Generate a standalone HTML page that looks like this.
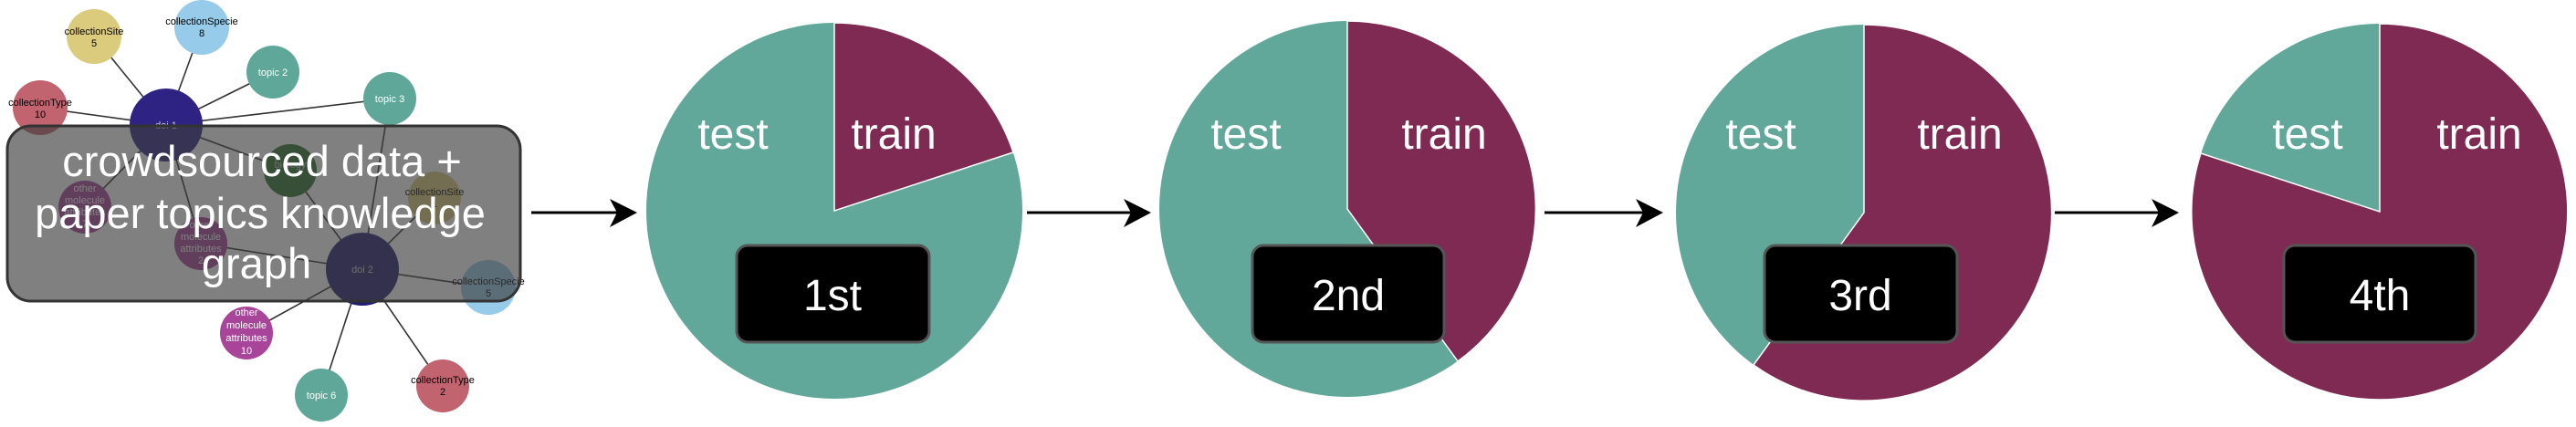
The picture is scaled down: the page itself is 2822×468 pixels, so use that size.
<!DOCTYPE html>
<html><head><meta charset="utf-8"><style>
html,body{margin:0;padding:0;background:#fff;width:2822px;height:468px;overflow:hidden}
svg{display:block}
</style></head><body>
<svg width="2822" height="468" viewBox="0 0 2822 468" xmlns="http://www.w3.org/2000/svg" font-family="Liberation Sans, Arial, sans-serif">
<defs>
<marker id="ah" markerWidth="10" markerHeight="10" refX="9" refY="5" orient="auto" markerUnits="userSpaceOnUse" viewBox="0 0 10 10"></marker>
</defs>
<!-- graph edges -->
<g stroke="#333" stroke-width="1.6">
<line x1="182" y1="137" x2="103" y2="40"/>
<line x1="182" y1="137" x2="221" y2="30"/>
<line x1="182" y1="137" x2="299" y2="79"/>
<line x1="182" y1="137" x2="44" y2="118"/>
<line x1="182" y1="137" x2="427" y2="108"/>
<line x1="182" y1="137" x2="318" y2="187"/>
<line x1="182" y1="137" x2="93" y2="227"/>
<line x1="182" y1="137" x2="220" y2="267"/>
<line x1="397" y1="295" x2="427" y2="108"/>
<line x1="397" y1="295" x2="318" y2="187"/>
<line x1="397" y1="295" x2="476" y2="217"/>
<line x1="397" y1="295" x2="220" y2="267"/>
<line x1="397" y1="295" x2="535" y2="315"/>
<line x1="397" y1="295" x2="270" y2="365"/>
<line x1="397" y1="295" x2="352" y2="433"/>
<line x1="397" y1="295" x2="485" y2="423"/>
</g>
<!-- nodes -->
<g font-size="11" text-anchor="middle">
<circle cx="103" cy="40" r="30" fill="#dbcb7c"/><text x="103" y="38" fill="#000">collectionSite</text><text x="103" y="51">5</text>
<circle cx="221" cy="30" r="30" fill="#96cbe9"/><text x="221" y="27">collectionSpecie</text><text x="221" y="40">8</text>
<circle cx="299" cy="79" r="29" fill="#5fa899"/><text x="299" y="83" fill="#fff">topic 2</text>
<circle cx="44" cy="118" r="30" fill="#c1646f"/><text x="44" y="116">collectionType</text><text x="44" y="129">10</text>
<circle cx="427" cy="108" r="29" fill="#5fa899"/><text x="427" y="112" fill="#fff">topic 3</text>
<circle cx="182" cy="137" r="40" fill="#2e2383"/><text x="182" y="141" fill="#ccc">doi 1</text>
<circle cx="318" cy="187" r="29" fill="#2f742f"/><text x="318" y="184" fill="#ccc">biology</text>
<circle cx="93" cy="227" r="29" fill="#a8449a"/><text x="93" y="210" fill="#fff">other</text><text x="93" y="223" fill="#fff">molecule</text><text x="93" y="236" fill="#fff">attributes</text><text x="93" y="249" fill="#fff">7</text>
<circle cx="220" cy="267" r="29" fill="#a8449a"/><text x="220" y="250" fill="#fff">other</text><text x="220" y="263" fill="#fff">molecule</text><text x="220" y="276" fill="#fff">attributes</text><text x="220" y="289" fill="#fff">2</text>
<circle cx="476" cy="217" r="29" fill="#dbcb7c"/><text x="476" y="214">collectionSite</text><text x="476" y="227">1</text>
<circle cx="535" cy="315" r="30" fill="#96cbe9"/><text x="535" y="312">collectionSpecie</text><text x="535" y="325">5</text>
<circle cx="397" cy="295" r="40" fill="#231d70"/><text x="397" y="299" fill="#ccc">doi 2</text>
<circle cx="270" cy="365" r="29" fill="#a8449a"/><text x="270" y="346" fill="#fff">other</text><text x="270" y="360" fill="#fff">molecule</text><text x="270" y="374" fill="#fff">attributes</text><text x="270" y="388" fill="#fff">10</text>
<circle cx="352" cy="433" r="29" fill="#5fa899"/><text x="352" y="437" fill="#fff">topic 6</text>
<circle cx="485" cy="423" r="29" fill="#c1646f"/><text x="485" y="420">collectionType</text><text x="485" y="433">2</text>
</g>
<!-- overlay -->
<rect x="8" y="138" width="562" height="192" rx="26" fill="rgba(60,60,60,0.65)" stroke="#333" stroke-width="3"/>
<g fill="#fff" font-size="47" text-anchor="middle">
<text x="287" y="193">crowdsourced data +</text>
<text x="285" y="250">paper topics knowledge</text>
<text x="281" y="305">graph</text>
</g>
<!-- arrows -->
<g stroke="#000" stroke-width="3">
<line x1="582" y1="233" x2="680" y2="233"/>
<line x1="1125" y1="233" x2="1243" y2="233"/>
<line x1="1692" y1="233" x2="1804" y2="233"/>
<line x1="2251" y1="233" x2="2369" y2="233"/>
</g>
<g fill="#000">
<polygon points="668,218 698,233 668,249 676,233"/>
<polygon points="1231,218 1261,233 1231,249 1239,233"/>
<polygon points="1792,218 1822,233 1792,249 1800,233"/>
<polygon points="2357,218 2387,233 2357,249 2365,233"/>
</g>
<!-- pies -->
<g stroke="#fff" stroke-width="1.5">
<circle cx="914" cy="231" r="206" fill="#61a89a" stroke="none"/>
<path d="M914,231 L914,25 A206,206 0 0 1 1110,167 Z" fill="#7e2a52"/>
<circle cx="1476" cy="229" r="206" fill="#61a89a" stroke="none"/>
<path d="M1476,229 L1476,23 A206,206 0 0 1 1597,396 Z" fill="#7e2a52"/>
<circle cx="2042" cy="233" r="206" fill="#61a89a" stroke="none"/>
<path d="M2042,233 L2042,27 A206,206 0 1 1 1921,400 Z" fill="#7e2a52"/>
<circle cx="2607" cy="232" r="206" fill="#61a89a" stroke="none"/>
<path d="M2607,232 L2607,26 A206,206 0 1 1 2411,168 Z" fill="#7e2a52"/>
</g>
<g fill="#fff" font-size="48" text-anchor="middle">
<text x="803" y="163">test</text><text x="979" y="163">train</text>
<text x="1365" y="163">test</text><text x="1582" y="163">train</text>
<text x="1929" y="163">test</text><text x="2147" y="163">train</text>
<text x="2528" y="163">test</text><text x="2716" y="163">train</text>
</g>
<g fill="#000" stroke="#555" stroke-width="3">
<rect x="807" y="269" width="211" height="106" rx="12"/>
<rect x="1372" y="269" width="210" height="106" rx="12"/>
<rect x="1933" y="269" width="211" height="106" rx="12"/>
<rect x="2502" y="269" width="210" height="106" rx="12"/>
</g>
<g fill="#fff" font-size="48" text-anchor="middle">
<text x="912" y="340">1st</text>
<text x="1477" y="340">2nd</text>
<text x="2038" y="340">3rd</text>
<text x="2607" y="340">4th</text>
</g>
</svg>
</body></html>
